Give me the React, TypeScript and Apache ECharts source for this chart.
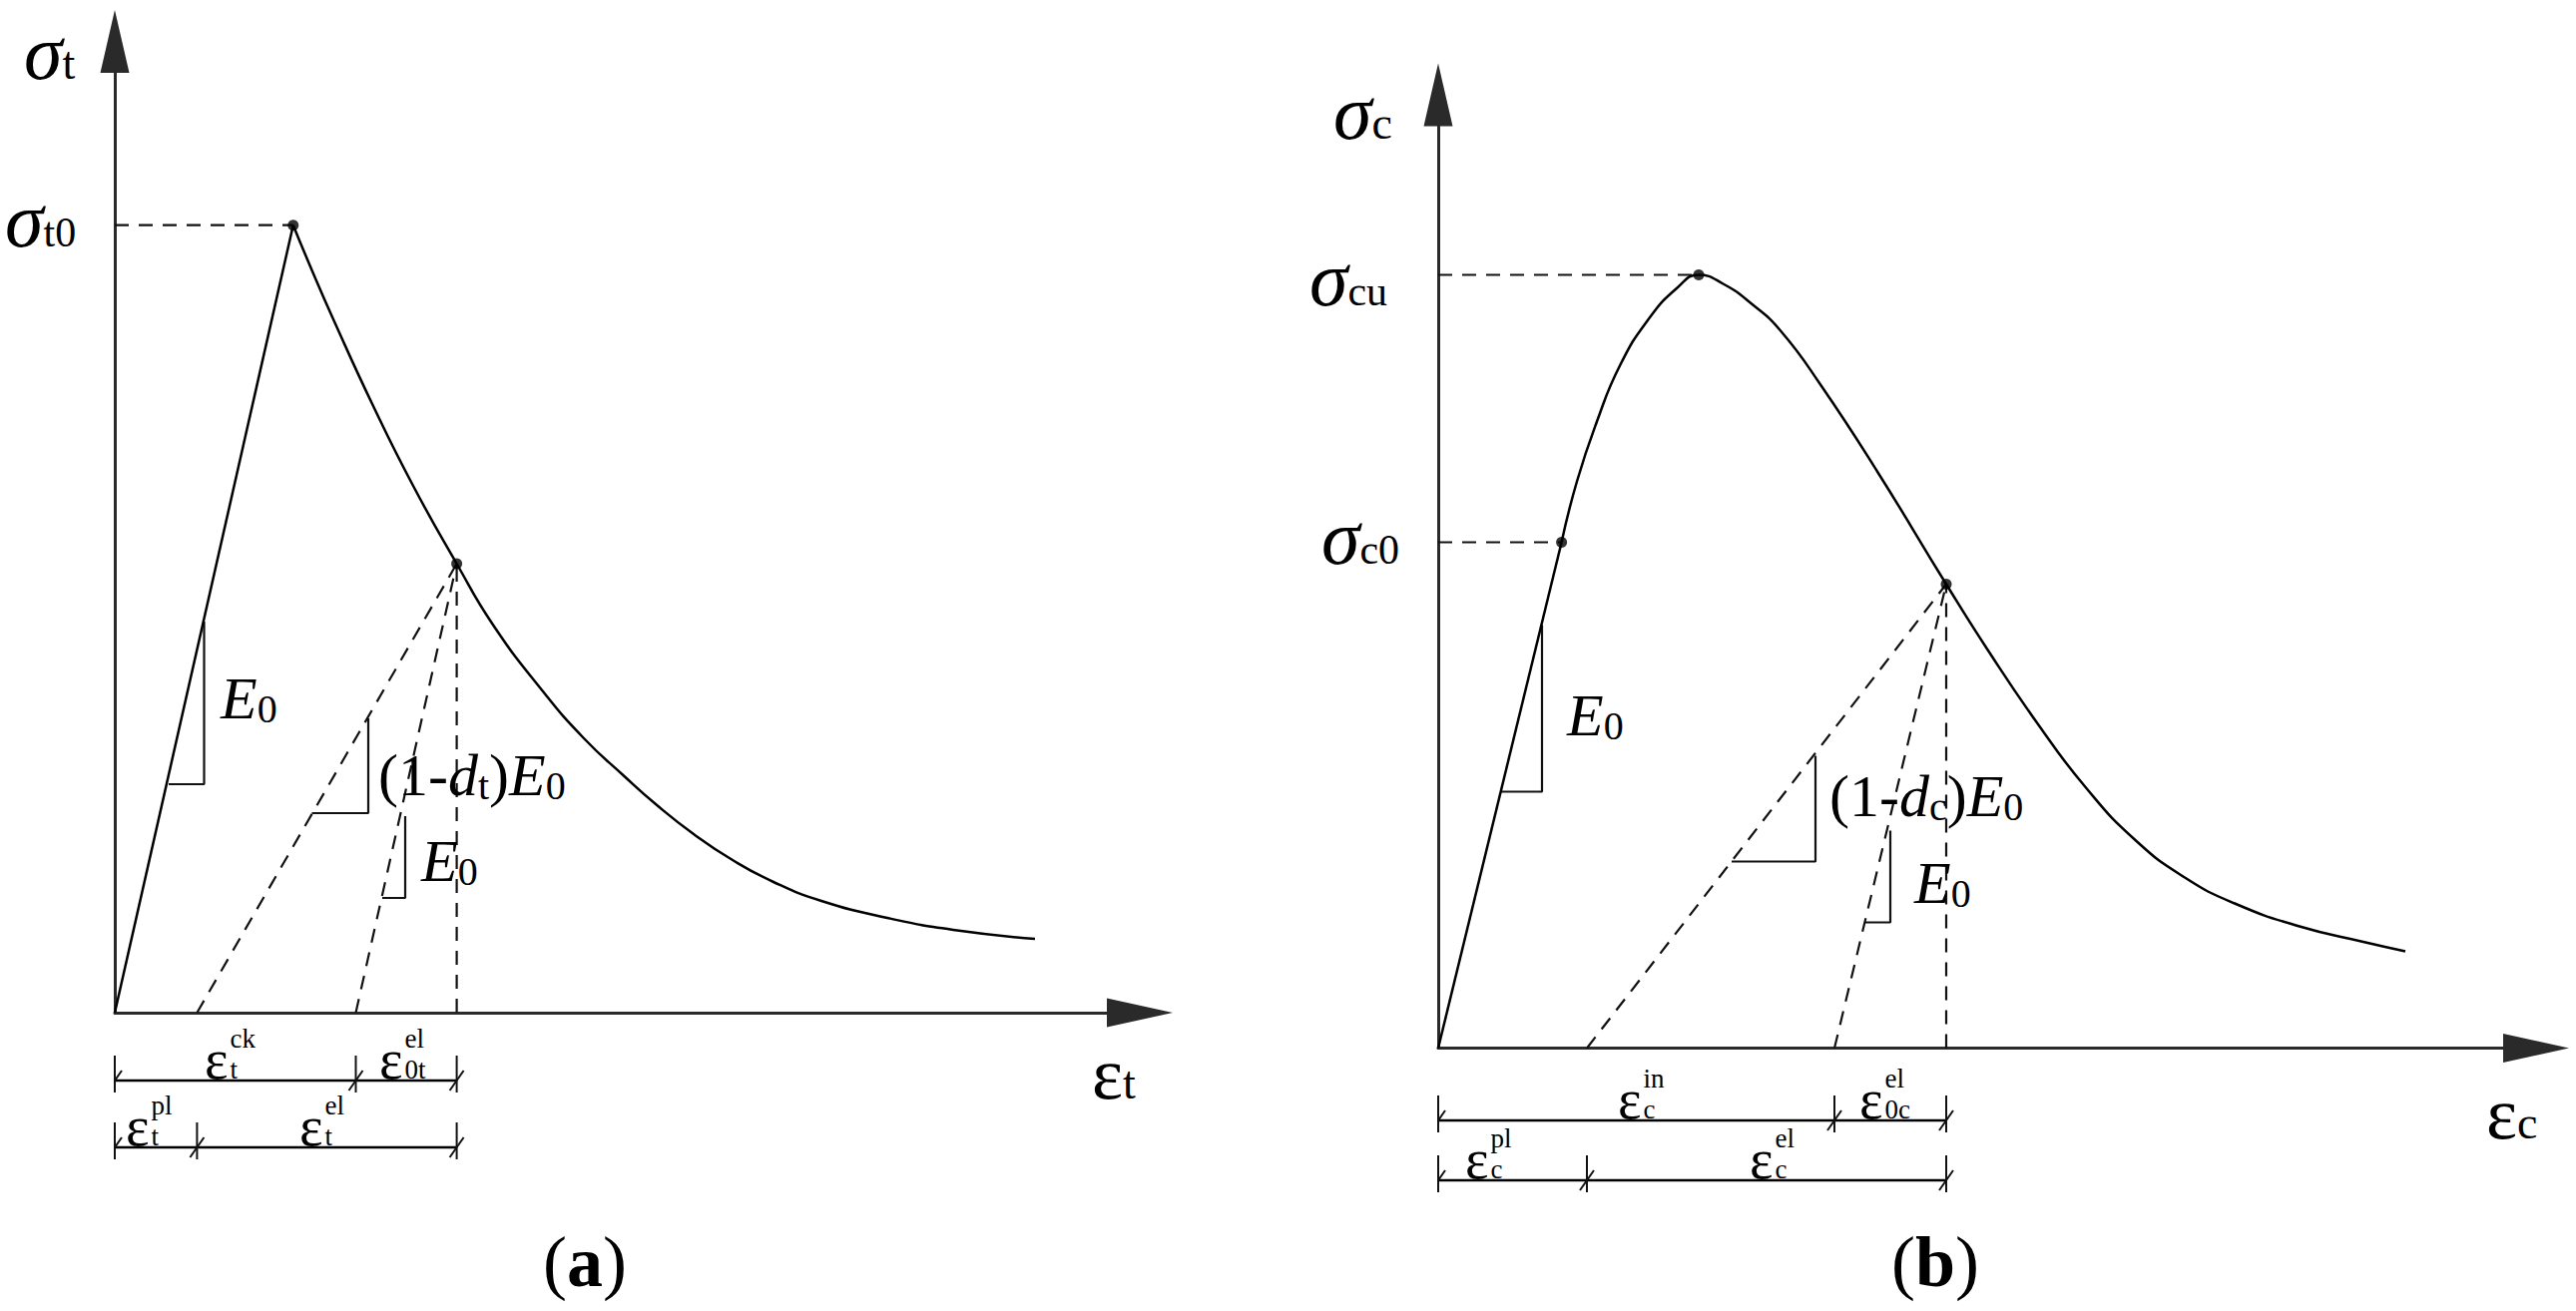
import React, { useEffect, useRef } from "react";
import * as echarts from "echarts";

// ================= DATA (relative units: origin of each panel's axes) =================
// Panel (a): uniaxial tension
const tensionLoading: number[][] = [[0, 0], [178.75, 789.3]];
const tensionSoftening: number[][] = [
  [178.75, 789.3], [198, 743], [218.5, 696], [258.5, 609], [299, 528], [342.6, 450],
  [378.8, 389], [428.2, 323], [470, 275], [510.5, 237], [542, 209], [580, 179], [619, 153],
  [660, 131], [708, 112], [774, 95], [840, 83], [922, 74],
];
const tensionPeak: number[] = [178.75, 789.3];
const tensionUnloadPoint: number[] = [342.6, 450];
const tensionFootPlastic = 82.4;
const tensionFootElastic = 241.5;
const tensionSlopeE0: number[][] = [[54, 229], [89.5, 229], [89.5, 392]];
const tensionSlopeDamaged: number[][] = [[197.5, 200], [254, 200], [254, 295]];
const tensionSlopeE0Unload: number[][] = [[268, 115], [291, 115], [291, 197]];

// Panel (b): uniaxial compression
const compLoading: number[][] = [[0, 0], [123.6, 507]];
const compCurve: number[][] = [
  [123.6, 507], [139, 568], [159, 628], [182, 684], [211, 731], [239.5, 762], [261, 775],
  [285.5, 766], [314, 746], [343, 719], [383, 665], [440.5, 577], [509, 465], [550, 400],
  [600, 326], [649, 261], [699, 208], [748, 171], [798, 145], [863, 122], [929, 106], [969, 97],
];
const compYield: number[] = [123.6, 507];
const compPeak: number[] = [261, 775];
const compUnloadPoint: number[] = [509, 465];
const compFootPlastic = 149;
const compFootElastic = 397;
const compSlopeE0: number[][] = [[63, 257], [104, 257], [104, 424]];
const compSlopeDamaged: number[][] = [[294, 187], [378, 187], [378, 293]];
const compSlopeE0Unload: number[][] = [[427, 126], [453, 126], [453, 218]];

// ================= LAYOUT =================
const W = 2581;
const H = 1314;
const FAMILY = "Liberation Serif";

const GRIDS = [
  { left: 115, top: 41.5, width: 1027, height: 973.5, row1: -68, row2: -135 },
  { left: 1441, top: 95, width: 1100, height: 955.5, row1: -72.5, row2: -132.5 },
];

type Part = { t: string; s: number; st?: string; x?: number; b?: number; lh?: number };

function canvasFont(p: Part) {
  return `${p.st === "i" ? "italic " : ""}${p.st === "b" ? "bold " : ""}${p.s}px "${FAMILY}"`;
}

function textEl(p: Part, x: number, y: number, vAlign: string) {
  return {
    type: "text",
    x,
    y,
    silent: true,
    z: 10,
    style: {
      text: p.t,
      fontFamily: FAMILY,
      fontSize: p.s,
      fontStyle: p.st === "i" ? "italic" : "normal",
      fontWeight: p.st === "b" ? "bold" : "normal",
      lineHeight: p.lh,
      fill: "#000",
      align: "left",
      verticalAlign: vAlign,
      textAlign: "left",
      textVerticalAlign: vAlign,
    },
  };
}

function mathText(ctx: CanvasRenderingContext2D, x0: number, base: number, parts: Part[]) {
  const els: any[] = [];
  let x = x0;
  for (const p of parts) {
    const px = p.x ?? x;
    const pb = p.b ?? base;
    els.push(textEl(p, px, pb - 0.34 * p.s, "middle"));
    ctx.font = canvasFont(p);
    x = px + ctx.measureText(p.t).width;
  }
  return els;
}

function widthOf(ctx: CanvasRenderingContext2D, parts: Part[]) {
  let w = 0;
  for (const p of parts) {
    ctx.font = canvasFont(p);
    w += ctx.measureText(p.t).width;
  }
  return w;
}

// ε with a stacked superscript / subscript (one text block of two lines)
function dimLabel(ctx: CanvasRenderingContext2D, xe: number, b: number, sub: string, sup: string) {
  const eps: Part = { t: "ε", s: 56 };
  ctx.font = canvasFont(eps);
  const subX = xe + ctx.measureText("ε").width + 2;
  const s = 27;
  const lh = 31;
  const stack: Part = { t: sup + "\n" + sub, s, lh };
  return [
    ...mathText(ctx, xe, b, [eps]),
    textEl(stack, subX, b - 0.34 * s + lh / 2, "bottom"),
  ];
}

function buildSeries(i: number, d: {
  loading: number[][]; curve: number[][]; levels: number[][]; point: number[];
  feet: number[]; slopes: number[][][]; marks: number[][]; rows: number[];
  row1Ticks: number[]; row2Ticks: number[];
}) {
  const s: any[] = [];
  const base = {
    type: "line", xAxisIndex: i, yAxisIndex: i, symbol: "none", showSymbol: false,
    clip: false, silent: true, animation: false, emphasis: { disabled: true },
  };
  const solid = { color: "#000", width: 2.5, type: "solid" };
  const thin = { color: "#111", width: 2.2, type: "solid" };
  const dashed = { color: "#111", width: 2.2, type: [14, 10] };

  s.push({ ...base, data: d.loading, lineStyle: solid, z: 4 });
  s.push({ ...base, data: d.curve, lineStyle: solid, smooth: 0.5, z: 4 });
  for (const lv of d.levels) s.push({ ...base, data: [[0, lv[1]], lv], lineStyle: dashed, z: 3 });
  for (const f of d.feet) s.push({ ...base, data: [[f, 0], d.point], lineStyle: dashed, z: 3 });
  for (const tri of d.slopes) s.push({ ...base, data: tri, lineStyle: thin, z: 3 });

  const rowTicks = [d.row1Ticks, d.row2Ticks];
  d.rows.forEach((ry, k) => {
    const ticks = rowTicks[k];
    s.push({ ...base, data: [[ticks[0], ry], [ticks[ticks.length - 1], ry]], lineStyle: solid, z: 3 });
    for (const tx of ticks) {
      s.push({ ...base, data: [[tx, ry + 25], [tx, ry - 12]], lineStyle: { color: "#111", width: 2 }, z: 3 });
      s.push({ ...base, data: [[tx - 7, ry - 10], [tx + 7, ry + 10]], lineStyle: { color: "#111", width: 2 }, z: 3 });
    }
  });

  s.push({
    type: "scatter", xAxisIndex: i, yAxisIndex: i, data: d.marks, symbol: "circle", symbolSize: 11,
    itemStyle: { color: "#000" }, clip: false, silent: true, z: 6, animation: false,
  });
  return s;
}

export default function App() {
  const ref = useRef<HTMLDivElement>(null);

  useEffect(() => {
    if (!ref.current) return;
    const chart = echarts.init(ref.current, null, { renderer: "svg", width: W, height: H });
    const ctx = document.createElement("canvas").getContext("2d") as CanvasRenderingContext2D;

    const axisLineStyle = { color: "#2a2a2a", width: 3 };
    const xAxes = GRIDS.map((g, i) => ({
      type: "value", gridIndex: i, min: 0, max: g.width,
      axisLine: { show: true, onZero: true, symbol: ["none", "triangle"], symbolSize: [29, 66], lineStyle: axisLineStyle },
      axisTick: { show: false }, axisLabel: { show: false }, splitLine: { show: false },
    }));
    const yAxes = GRIDS.map((g, i) => ({
      type: "value", gridIndex: i, min: 0, max: g.height,
      axisLine: { show: true, onZero: true, symbol: ["none", "triangle"], symbolSize: [29, 63], lineStyle: axisLineStyle },
      axisTick: { show: false }, axisLabel: { show: false }, splitLine: { show: false },
    }));

    const series = [
      ...buildSeries(0, {
        loading: tensionLoading, curve: tensionSoftening, levels: [tensionPeak], point: tensionUnloadPoint,
        feet: [tensionFootPlastic, tensionFootElastic, tensionUnloadPoint[0]],
        slopes: [tensionSlopeE0, tensionSlopeDamaged, tensionSlopeE0Unload],
        marks: [tensionPeak, tensionUnloadPoint], rows: [GRIDS[0].row1, GRIDS[0].row2],
        row1Ticks: [0, tensionFootElastic, tensionUnloadPoint[0]],
        row2Ticks: [0, tensionFootPlastic, tensionUnloadPoint[0]],
      }),
      ...buildSeries(1, {
        loading: compLoading, curve: compCurve, levels: [compPeak, compYield], point: compUnloadPoint,
        feet: [compFootPlastic, compFootElastic, compUnloadPoint[0]],
        slopes: [compSlopeE0, compSlopeDamaged, compSlopeE0Unload],
        marks: [compYield, compPeak, compUnloadPoint], rows: [GRIDS[1].row1, GRIDS[1].row2],
        row1Ticks: [0, compFootElastic, compUnloadPoint[0]],
        row2Ticks: [0, compFootPlastic, compUnloadPoint[0]],
      }),
    ];

    const gA = GRIDS[0];
    const gB = GRIDS[1];
    const rowPxA1 = gA.top + gA.height - gA.row1;
    const rowPxA2 = gA.top + gA.height - gA.row2;
    const rowPxB1 = gB.top + gB.height - gB.row1;
    const rowPxB2 = gB.top + gB.height - gB.row2;

    const capA: Part[] = [{ t: "(", s: 72 }, { t: "a", s: 72, st: "b" }, { t: ")", s: 72 }];
    const capB: Part[] = [{ t: "(", s: 72 }, { t: "b", s: 72, st: "b" }, { t: ")", s: 72 }];

    const texts: any[] = [
      // panel (a)
      ...mathText(ctx, 24, 79, [{ t: "σ", s: 78, st: "i" }, { t: "t", s: 46 }]),
      ...mathText(ctx, 5, 247, [{ t: "σ", s: 78, st: "i" }, { t: "t0", s: 42 }]),
      ...mathText(ctx, 221, 720, [{ t: "E", s: 60, st: "i" }, { t: "0", s: 40, b: 724 }]),
      ...mathText(ctx, 379, 797, [
        { t: "(1-", s: 60 }, { t: "d", s: 60, st: "i" }, { t: "t", s: 40, b: 801 }, { t: ")", s: 60 },
        { t: "E", s: 60, st: "i" }, { t: "0", s: 40, b: 801 },
      ]),
      ...mathText(ctx, 422, 883, [{ t: "E", s: 60, st: "i" }, { t: "0", s: 40, b: 887 }]),
      ...mathText(ctx, 1094, 1101, [{ t: "ε", s: 74 }, { t: "t", s: 46 }]),
      ...dimLabel(ctx, 205, rowPxA1 - 2, "t", "ck"),
      ...dimLabel(ctx, 380, rowPxA1 - 2, "0t", "el"),
      ...dimLabel(ctx, 126, rowPxA2 - 2, "t", "pl"),
      ...dimLabel(ctx, 300, rowPxA2 - 2, "t", "el"),
      ...mathText(ctx, 586 - widthOf(ctx, capA) / 2, 1289, capA),
      // panel (b)
      ...mathText(ctx, 1336, 139, [{ t: "σ", s: 78, st: "i" }, { t: "c", s: 46 }]),
      ...mathText(ctx, 1312, 306, [{ t: "σ", s: 78, st: "i" }, { t: "cu", s: 42 }]),
      ...mathText(ctx, 1324, 565, [{ t: "σ", s: 78, st: "i" }, { t: "c0", s: 42 }]),
      ...mathText(ctx, 1570, 737, [{ t: "E", s: 60, st: "i" }, { t: "0", s: 40, b: 741 }]),
      ...mathText(ctx, 1833, 818, [
        { t: "(1-", s: 60 }, { t: "d", s: 60, st: "i" }, { t: "c", s: 40, b: 822 }, { t: ")", s: 60 },
        { t: "E", s: 60, st: "i" }, { t: "0", s: 40, b: 822 },
      ]),
      ...mathText(ctx, 1918, 905, [{ t: "E", s: 60, st: "i" }, { t: "0", s: 40, b: 909 }]),
      ...mathText(ctx, 2491, 1141, [{ t: "ε", s: 74 }, { t: "c", s: 46 }]),
      ...dimLabel(ctx, 1621, rowPxB1 - 2, "c", "in"),
      ...dimLabel(ctx, 1863, rowPxB1 - 2, "0c", "el"),
      ...dimLabel(ctx, 1468, rowPxB2 - 2, "c", "pl"),
      ...dimLabel(ctx, 1753, rowPxB2 - 2, "c", "el"),
      ...mathText(ctx, 1939 - widthOf(ctx, capB) / 2, 1289, capB),
    ];

    chart.setOption({
      animation: false,
      backgroundColor: "#ffffff",
      grid: GRIDS.map((g) => ({ left: g.left, top: g.top, width: g.width, height: g.height, containLabel: false })),
      xAxis: xAxes,
      yAxis: yAxes,
      series,
      graphic: { elements: texts },
    });

    return () => {
      chart.dispose();
    };
  }, []);

  return (
    <div
      ref={ref}
      style={{ position: "fixed", left: 0, top: 0, width: W, height: H, background: "#fff" }}
    />
  );
}
